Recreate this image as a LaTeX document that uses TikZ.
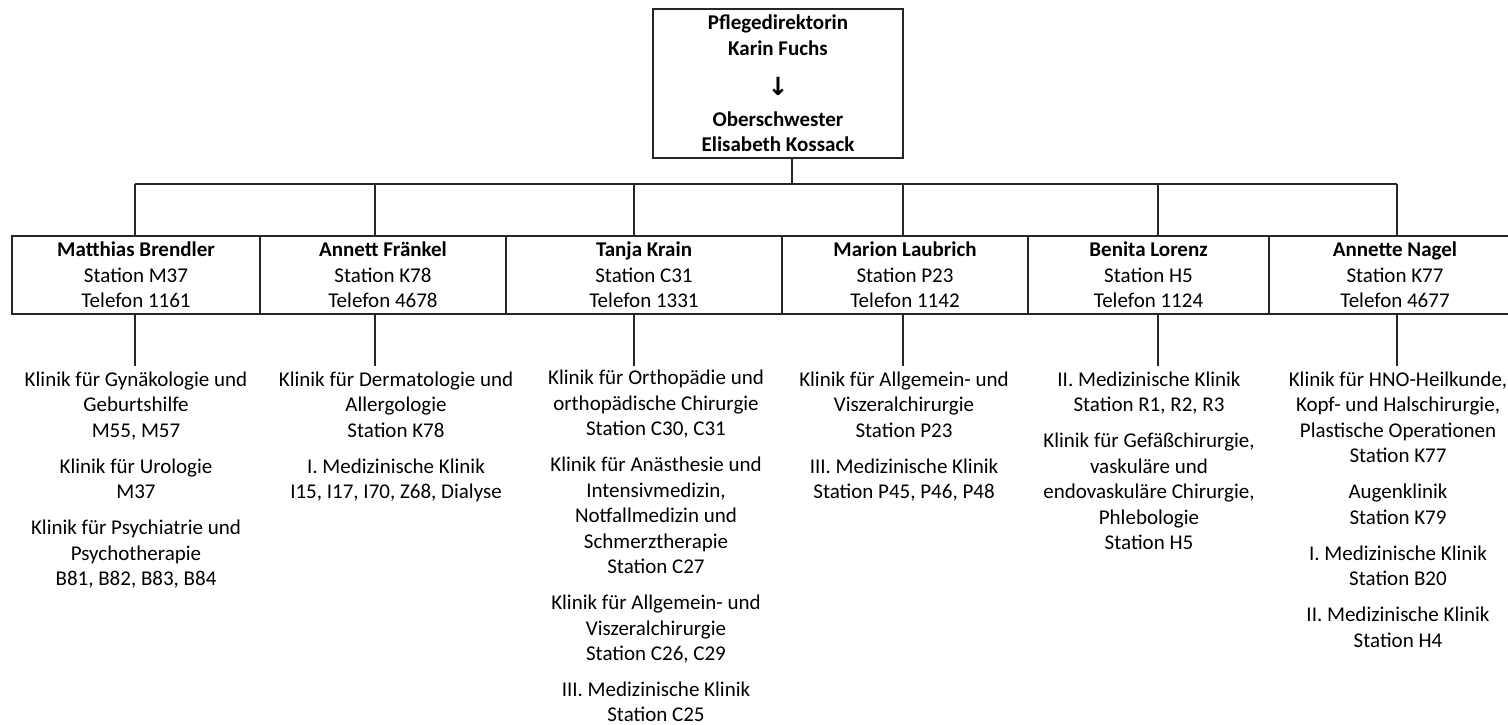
\documentclass[tikz,border=0pt]{standalone}
\usepackage{fontspec}
\setmainfont{Carlito}
\newfontfamily\arrowfont{DejaVu Sans}
\begin{document}
\begin{tikzpicture}[x=0.5pt,y=-0.5pt,
  every node/.style={inner sep=0pt, font=\fontsize{10.5}{12.75}\selectfont},
  box/.style={draw=black!85, line width=0.6pt, align=center, minimum height=39pt},
  col/.style={align=center, anchor=north},
  conn/.style={draw=black!85, line width=0.6pt}]
\useasboundingbox (0,0) rectangle (1508,724);
\begin{scope}
\clip (0,0) rectangle (1508,724);
% top box
\node[box, font=\fontsize{10.5}{12.75}\selectfont\bfseries, minimum width=125pt, minimum height=74.5pt] (top) at (778,83.5)
  {Pflegedirektorin\\Karin Fuchs\\[7.5pt]{\arrowfont\bfseries\fontsize{12.5}{12.75}\selectfont ↓}\\[2.5pt]Oberschwester\\Elisabeth Kossack};
% row of boxes
\node[box, minimum width=124pt] (b1) at (136,275) {\textbf{Matthias Brendler}\\Station M37\\Telefon 1161};
\node[box, minimum width=123pt] (b2) at (383,275) {\textbf{Annett Fränkel}\\Station K78\\Telefon 4678};
\node[box, minimum width=138pt] (b3) at (644,275) {\textbf{Tanja Krain}\\Station C31\\Telefon 1331};
\node[box, minimum width=123pt] (b4) at (905,275) {\textbf{Marion Laubrich}\\Station P23\\Telefon 1142};
\node[box, minimum width=120.5pt] (b5) at (1148.5,275) {\textbf{Benita Lorenz}\\Station H5\\Telefon 1124};
\node[box, minimum width=126pt] (b6) at (1395,275) {\textbf{Annette Nagel}\\Station K77\\Telefon 4677};
% columns
\node[col] (c1) at (136,368) {\strut Klinik für Gynäkologie und\\Geburtshilfe\\M55, M57\\[5.25pt]Klinik für Urologie\\M37\\[5.25pt]Klinik für Psychiatrie und\\Psychotherapie\\B81, B82, B83, B84};
\node[col] (c2) at (396,368) {\strut Klinik für Dermatologie und\\Allergologie\\Station K78\\[5.25pt]I. Medizinische Klinik\\I15, I17, I70, Z68, Dialyse};
\node[col] (c3) at (656,366.5) {\strut Klinik für Orthopädie und\\orthopädische Chirurgie\\Station C30, C31\\[5.25pt]Klinik für Anästhesie und\\Intensivmedizin,\\Notfallmedizin und\\Schmerztherapie\\Station C27\\[5.25pt]Klinik für Allgemein- und\\Viszeralchirurgie\\Station C26, C29\\[5pt]III. Medizinische Klinik\\Station C25};
\node[col] (c4) at (904,368) {\strut Klinik für Allgemein- und\\Viszeralchirurgie\\Station P23\\[5.25pt]III. Medizinische Klinik\\Station P45, P46, P48};
\node[col] (c5) at (1149,368) {\strut II. Medizinische Klinik\\Station R1, R2, R3\\[5.25pt]Klinik für Gefäßchirurgie,\\vaskuläre und\\endovaskuläre Chirurgie,\\Phlebologie\\Station H5};
\node[col] (c6) at (1398,368) {\strut Klinik für HNO-Heilkunde,\\Kopf- und Halschirurgie,\\Plastische Operationen\\Station K77\\[5.25pt]Augenklinik\\Station K79\\[5.25pt]I. Medizinische Klinik\\Station B20\\[5.25pt]II. Medizinische Klinik\\Station H4};
% connectors
\coordinate (j0) at (792,184);
\coordinate (d1) at (135,184);
\coordinate (d2) at (375,184);
\coordinate (d3) at (634,184);
\coordinate (d4) at (903,184);
\coordinate (d5) at (1158,184);
\coordinate (d6) at (1397,184);
\coordinate (e1) at (135,366);
\coordinate (e2) at (375,366);
\coordinate (e3) at (634,366);
\coordinate (e4) at (903,366);
\coordinate (e5) at (1158,366);
\coordinate (e6) at (1397,366);
\draw[conn] (top.south -| j0) -- (j0);
\draw[conn] (d1) -- (d6);
\foreach \i in {1,...,6} {
  \draw[conn] (d\i) -- (d\i |- b\i.north);
  \draw[conn] (b\i.south -| e\i) -- (e\i);
}
\end{scope}
\end{tikzpicture}
\end{document}
